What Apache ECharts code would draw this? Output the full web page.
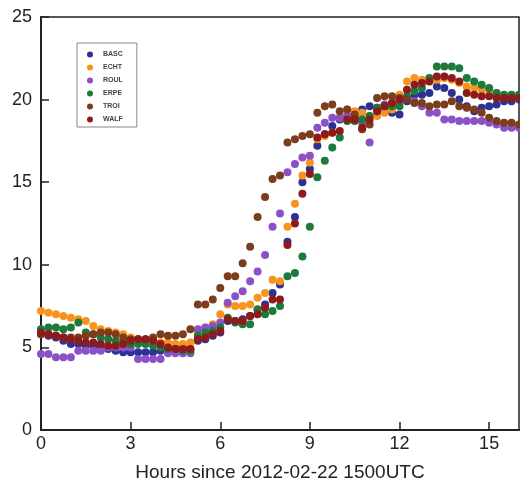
<!DOCTYPE html>
<html>
<head>
<meta charset="utf-8">
<script src="https://cdn.jsdelivr.net/npm/echarts@6/dist/echarts.min.js"></script>
<style>html,body{margin:0;padding:0;background:#fff;}#chart{width:520px;height:487px;}</style>
</head>
<body>
<div id="chart"></div>
<script>
var hours = [0,0.25,0.5,0.75,1,1.25,1.5,1.75,2,2.25,2.5,2.75,3,3.25,3.5,3.75,4,4.25,4.5,4.75,5,5.25,5.5,5.75,6,6.25,6.5,6.75,7,7.25,7.5,7.75,8,8.25,8.5,8.75,9,9.25,9.5,9.75,10,10.25,10.5,10.75,11,11.25,11.5,11.75,12,12.25,12.5,12.75,13,13.25,13.5,13.75,14,14.25,14.5,14.75,15,15.25,15.5,15.75,16];

var basc = [5.8,5.7,5.6,5.4,5.2,5.2,5.1,5.1,5.0,4.9,4.8,4.7,4.7,4.7,4.7,4.7,4.8,4.9,4.9,5.0,4.9,5.4,5.5,5.7,5.9,6.6,6.6,6.7,6.9,7.3,7.6,8.3,8.8,11.4,12.9,15.0,15.8,17.2,17.9,18.4,18.8,19.0,19.0,19.4,19.6,19.5,19.3,19.2,19.1,19.9,20.3,20.3,20.4,20.8,20.7,20.4,20.0,19.6,19.3,19.5,19.6,19.7,19.9,19.9,20.0];
var echt = [7.2,7.1,7.0,6.9,6.8,6.7,6.6,6.3,6.1,6.0,5.9,5.8,5.6,5.5,5.4,5.4,5.3,5.3,5.2,5.2,5.3,6.0,6.2,6.4,7.0,7.6,7.5,7.5,7.6,8.0,8.3,9.1,9.0,12.3,13.7,15.4,16.2,17.6,17.8,18.0,18.9,19.4,19.3,19.2,19.0,19.0,19.2,19.4,20.3,21.1,21.3,21.2,21.2,21.2,21.3,21.2,21.0,20.8,20.7,20.6,20.5,20.4,20.2,20.2,20.1];
var roul = [4.6,4.6,4.4,4.4,4.4,4.8,4.8,4.8,4.8,5.0,5.0,5.0,5.0,4.3,4.3,4.3,4.3,4.65,4.65,4.65,4.65,6.1,6.2,6.3,6.5,7.7,8.1,8.4,9.0,9.6,10.6,12.3,13.1,15.6,16.1,16.5,16.6,18.3,18.6,18.9,18.9,19.0,18.9,18.6,17.4,19.3,19.7,19.8,19.8,20.1,19.9,19.6,19.2,19.2,18.8,18.8,18.7,18.7,18.7,18.7,18.6,18.5,18.3,18.3,18.3];
var erpe = [6.1,6.2,6.2,6.1,6.2,6.5,5.9,5.8,5.6,5.5,5.4,5.3,5.2,5.2,5.2,5.1,5.0,4.9,4.9,4.8,4.8,5.7,5.9,6.0,6.2,6.8,6.5,6.4,6.4,7.3,7.0,7.2,7.5,9.3,9.5,10.5,12.3,15.3,16.3,17.1,17.7,18.7,18.7,18.8,19.0,19.5,19.6,19.6,19.6,20.2,20.5,20.7,21.3,22.0,22.0,22.0,21.9,21.3,21.1,20.9,20.7,20.4,20.3,20.3,20.3];
var troi = [5.8,5.8,5.7,5.6,5.6,5.6,5.7,5.8,5.9,5.9,5.8,5.6,5.5,5.5,5.5,5.6,5.8,5.7,5.7,5.8,6.1,7.6,7.6,7.9,8.6,9.3,9.3,10.1,11.1,12.9,14.1,15.2,15.4,17.4,17.6,17.8,17.9,19.2,19.6,19.7,19.3,19.4,19.1,18.2,18.5,20.1,20.2,20.2,20.1,20.0,19.8,19.8,19.6,19.7,19.7,19.9,19.6,19.5,19.4,19.2,18.9,18.7,18.6,18.6,18.5];
var walf = [5.9,5.8,5.7,5.6,5.5,5.4,5.3,5.3,5.2,5.1,5.1,5.2,5.4,5.5,5.5,5.4,5.2,5.0,4.9,4.9,4.9,5.5,5.6,5.8,6.0,6.7,6.6,6.6,6.9,7.0,7.4,7.9,7.9,11.2,12.5,14.3,15.5,17.7,17.9,18.0,18.1,18.8,18.8,18.3,18.8,19.3,19.6,19.8,20.0,20.6,20.9,21.0,21.1,21.4,21.4,21.3,21.1,20.4,20.3,20.2,20.2,20.1,20.1,20.1,20.1];

var seriesNames = ['BASC','ECHT','ROUL','ERPE','TROI','WALF'];
var seriesValues = [basc, echt, roul, erpe, troi, walf];
var seriesColors = ['#2e3192','#f7941d','#8b52c8','#1b7a3c','#7b3d1c','#8e1b1b'];
var xTicks = [0,3,6,9,12,15];
var yTicks = [0,5,10,15,20,25];

function pairs(vals){ return vals.map(function(v,i){ return [hours[i], v]; }); }

var chart = echarts.init(document.getElementById('chart'), null, {renderer:'canvas'});
var FF = 'Liberation Sans, Arial, sans-serif';
chart.setOption({
  animation:false,
  backgroundColor:'#fff',
  grid:{left:41, right:1, top:17, bottom:57, outerBoundsMode:'none', containLabel:false, show:true, borderColor:'#222', borderWidth:1.5, backgroundColor:'transparent'},
  legend:{
    orient:'vertical', left:77, top:43, data:seriesNames,
    icon:'circle', itemWidth:6, itemHeight:6, itemGap:4,
    padding:[7,14,3,10], borderColor:'#888', borderWidth:1,
    textStyle:{fontFamily:FF, fontSize:7, fontWeight:'bold', color:'#444', lineHeight:9, padding:[0,0,0,5]}
  },
  xAxis:{
    type:'value', min:0, max:16,
    name:'Hours since 2012-02-22 1500UTC', nameLocation:'middle', nameGap:33,
    nameTextStyle:{fontFamily:FF, fontSize:19, color:'#222'},
    axisLine:{show:true, onZero:false, lineStyle:{color:'#222', width:2}},
    axisTick:{show:true, inside:true, length:8, customValues:xTicks, lineStyle:{color:'#222', width:1.5}},
    axisLabel:{margin:5, fontFamily:FF, fontSize:18, color:'#222', customValues:xTicks},
    splitLine:{show:false}
  },
  yAxis:{
    type:'value', min:0, max:25,
    axisLine:{show:true, onZero:false, lineStyle:{color:'#222', width:2}},
    axisTick:{show:true, inside:true, length:8, customValues:yTicks, lineStyle:{color:'#222', width:1.5}},
    axisLabel:{margin:9, fontFamily:FF, fontSize:18, color:'#222', customValues:yTicks},
    splitLine:{show:false}
  },
  series: seriesNames.map(function(n,k){
    return {name:n, type:'scatter', data:pairs(seriesValues[k]), symbol:'circle', symbolSize:8,
      itemStyle:{color:seriesColors[k], opacity:1}};
  })
});
</script>
</body>
</html>
